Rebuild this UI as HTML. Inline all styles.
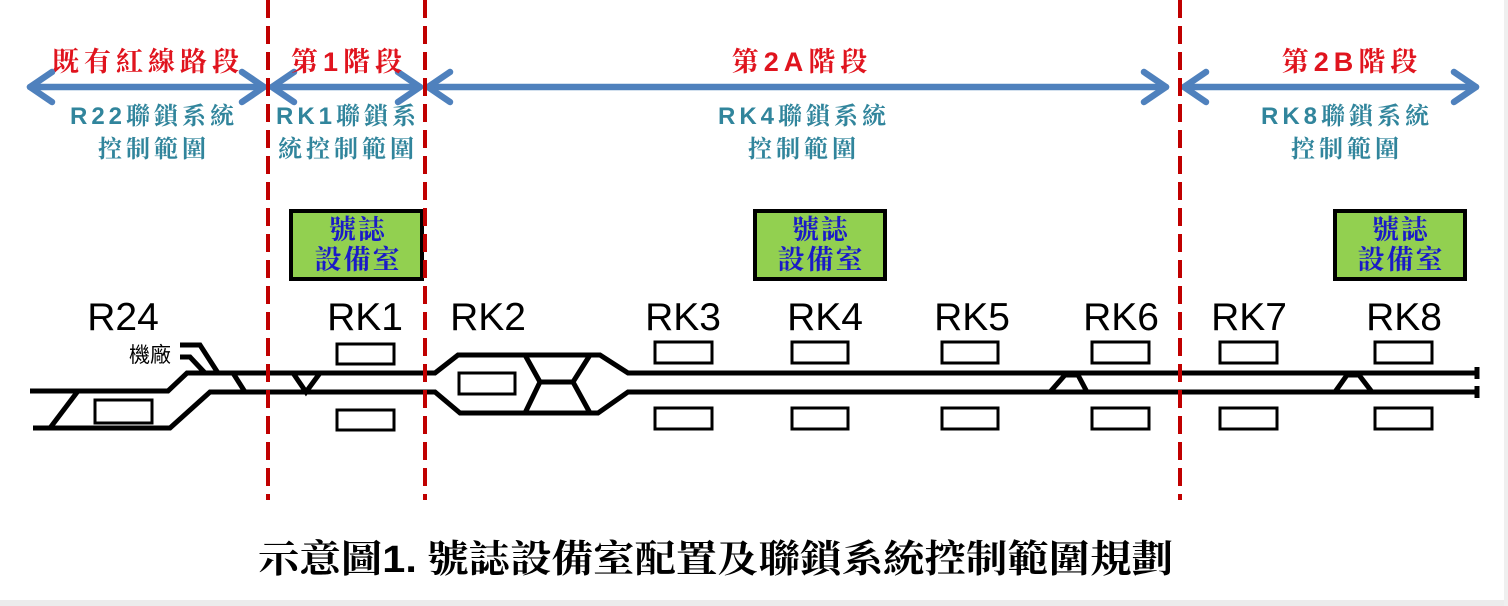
<!DOCTYPE html>
<html><head><meta charset="utf-8"><style>
html,body{margin:0;padding:0;background:#fff;}
svg{display:block;}
.red{font-family:"Liberation Sans","Noto Serif CJK SC",serif;font-weight:bold;fill:#e0141e;font-size:27px;letter-spacing:5px;}
.blu{font-family:"Liberation Sans","Noto Serif CJK SC",serif;font-weight:bold;fill:#31859c;font-size:24px;letter-spacing:4px;}
.grn{font-family:"Liberation Serif","Noto Serif CJK SC",serif;font-weight:bold;fill:#1a1ac8;font-size:27px;letter-spacing:2px;}
.rk{font-family:"Liberation Sans",sans-serif;font-size:39px;fill:#000;}
</style></head><body>
<svg width="1508" height="606" viewBox="0 0 1508 606" xmlns="http://www.w3.org/2000/svg">
<rect x="0" y="0" width="1508" height="606" fill="#fff"/>
<rect x="0" y="600" width="1508" height="6" fill="#ececec"/>
<rect x="1504" y="0" width="4" height="606" fill="#efefef"/>

<g stroke="#4f81bd" stroke-width="6.5" fill="none" stroke-linecap="round" stroke-linejoin="round">
<line x1="30" y1="87" x2="264" y2="87"/><polyline points="52,72 30,87 52,102"/><polyline points="242,72 264,87 242,102"/>
<line x1="272" y1="87" x2="420" y2="87"/><polyline points="294,72 272,87 294,102"/><polyline points="398,72 420,87 398,102"/>
<line x1="428" y1="87" x2="1166" y2="87"/><polyline points="450,72 428,87 450,102"/><polyline points="1144,72 1166,87 1144,102"/>
<line x1="1184" y1="87" x2="1476" y2="87"/><polyline points="1206,72 1184,87 1206,102"/><polyline points="1454,72 1476,87 1454,102"/>
</g>
<text class="red" x="148" y="71" text-anchor="middle">既有紅線路段</text>
<text class="red" x="349" y="71" text-anchor="middle">第1階段</text>
<text class="red" x="802" y="71" text-anchor="middle">第2A階段</text>
<text class="red" x="1352" y="71" text-anchor="middle">第2B階段</text>
<text class="blu" x="154" y="124" text-anchor="middle">R22聯鎖系統</text>
<text class="blu" x="154" y="157" text-anchor="middle">控制範圍</text>
<text class="blu" x="348" y="124" text-anchor="middle">RK1聯鎖系</text>
<text class="blu" x="348" y="157" text-anchor="middle">統控制範圍</text>
<text class="blu" x="804" y="124" text-anchor="middle">RK4聯鎖系統</text>
<text class="blu" x="804" y="157" text-anchor="middle">控制範圍</text>
<text class="blu" x="1347" y="124" text-anchor="middle">RK8聯鎖系統</text>
<text class="blu" x="1347" y="157" text-anchor="middle">控制範圍</text>

<g fill="#92d050" stroke="#000" stroke-width="4">
<rect x="291" y="211" width="131" height="68"/>
<rect x="755" y="211" width="130" height="68"/>
<rect x="1335" y="211" width="130" height="68"/>
</g>
<text class="grn" x="358" y="239" text-anchor="middle">號誌</text>
<text class="grn" x="358" y="269" text-anchor="middle">設備室</text>
<text class="grn" x="821" y="239" text-anchor="middle">號誌</text>
<text class="grn" x="821" y="269" text-anchor="middle">設備室</text>
<text class="grn" x="1401" y="239" text-anchor="middle">號誌</text>
<text class="grn" x="1401" y="269" text-anchor="middle">設備室</text>

<g class="rk" text-anchor="middle">
<text x="123" y="330">R24</text>
<text x="365" y="330">RK1</text>
<text x="488" y="330">RK2</text>
<text x="683" y="330">RK3</text>
<text x="825" y="330">RK4</text>
<text x="972" y="330">RK5</text>
<text x="1121" y="330">RK6</text>
<text x="1249" y="330">RK7</text>
<text x="1404" y="330">RK8</text>
</g>
<text x="150" y="362" text-anchor="middle" font-family="'Liberation Sans','Noto Sans CJK TC',sans-serif" font-size="21" fill="#000">機廠</text>

<g stroke="#000" stroke-width="5" fill="none" stroke-linejoin="miter">
<polyline points="30,391 168,391 187,373 425,373"/>
<polyline points="33,428 170,428 210,392 425,392"/>
<line x1="50" y1="428" x2="78" y2="391"/>
<polyline points="180,345 200,345 218,373"/>
<polyline points="180,357 190,357 205,373"/>
<line x1="233" y1="373" x2="245" y2="392"/>
<polyline points="293,373 306,392 320,373"/>
<polyline points="425,373 435,373 458,355 600,355 628,373 1476,373"/>
<polyline points="425,392 435,392 460,413 598,413 628,392 1476,392"/>
<polyline points="525,355 540,382 525,413"/>
<line x1="538" y1="382" x2="575" y2="382"/>
<polyline points="590,355 573,382 590,413"/>
<polyline points="1050,392 1065,375 1078,375 1087,392"/>
<polyline points="1335,392 1347,375 1359,375 1372,392"/>
</g>
<g stroke="#000" stroke-width="5"><line x1="1477" y1="367" x2="1477" y2="379"/><line x1="1477" y1="386" x2="1477" y2="398"/></g>

<g fill="#fff" stroke="#000" stroke-width="3">
<rect x="95" y="400" width="57" height="23"/>
<rect x="459" y="373" width="56" height="21"/>
<rect x="337" y="344" width="57" height="20"/><rect x="337" y="410" width="57" height="20"/>
<rect x="655" y="342" width="57" height="21"/><rect x="655" y="408" width="57" height="21"/>
<rect x="792" y="342" width="56" height="21"/><rect x="792" y="408" width="56" height="21"/>
<rect x="942" y="342" width="56" height="21"/><rect x="942" y="408" width="56" height="21"/>
<rect x="1092" y="342" width="57" height="21"/><rect x="1092" y="408" width="57" height="21"/>
<rect x="1220" y="342" width="57" height="21"/><rect x="1220" y="408" width="57" height="21"/>
<rect x="1375" y="342" width="57" height="21"/><rect x="1375" y="408" width="57" height="21"/>
</g>

<g stroke="#c00000" stroke-width="4" stroke-dasharray="18,8">
<line x1="268" y1="0" x2="268" y2="500"/>
<line x1="425" y1="0" x2="425" y2="500"/>
<line x1="1180" y1="0" x2="1180" y2="500"/>
</g>

<text x="258" y="572" textLength="915" lengthAdjust="spacingAndGlyphs" font-family="'Liberation Serif','Noto Serif CJK TC','Noto Serif CJK SC',serif" font-weight="bold" font-size="38" fill="#000">示意圖<tspan font-family="'Liberation Sans',sans-serif">1.</tspan> 號誌設備室配置及聯鎖系統控制範圍規劃</text>
</svg>
</body></html>
